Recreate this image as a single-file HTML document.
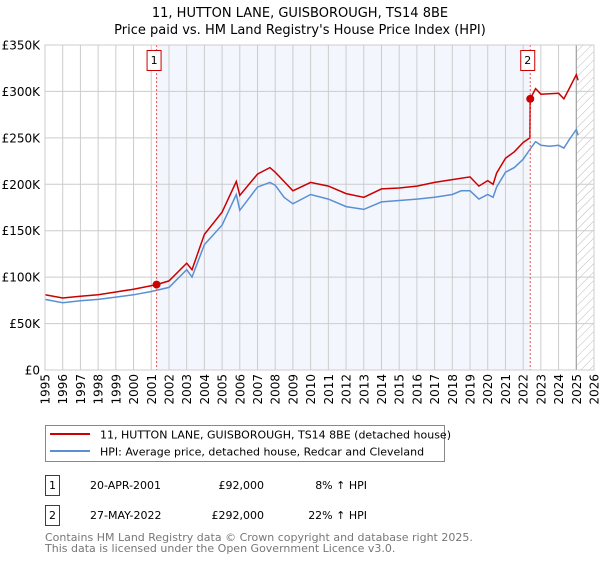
<!DOCTYPE html>
<html><head><meta charset="utf-8"><style>
body{margin:0;background:#fff}
svg text{font-family:"DejaVu Sans","Liberation Sans",sans-serif}
</style></head><body>
<svg id="chart" width="600" height="560" xmlns="http://www.w3.org/2000/svg">
<defs><pattern id="hatch" width="6" height="6" patternUnits="userSpaceOnUse" patternTransform="rotate(45)"><line x1="0" y1="0" x2="0" y2="6" stroke="#bbb" stroke-width="1"/></pattern></defs>
<text x="300" y="17" text-anchor="middle" font-size="13">11, HUTTON LANE, GUISBOROUGH, TS14 8BE</text>
<text x="300" y="34" text-anchor="middle" font-size="13">Price paid vs. HM Land Registry's House Price Index (HPI)</text>
<g id="plot"></g>
<g>
<rect x="45.5" y="425.5" width="399" height="36" fill="#fff" stroke="#888"/>
<line x1="50" y1="434" x2="90" y2="434" stroke="#cc0000" stroke-width="2"/>
<text x="100" y="438.5" font-size="11">11, HUTTON LANE, GUISBOROUGH, TS14 8BE (detached house)</text>
<line x1="50" y1="451" x2="90" y2="451" stroke="#5b8fd4" stroke-width="2"/>
<text x="100" y="455.5" font-size="11">HPI: Average price, detached house, Redcar and Cleveland</text>
</g>
<g font-size="11">
<rect x="45.5" y="475.5" width="14" height="20" fill="#fff" stroke="#cc0000"/>
<text x="52.5" y="489" text-anchor="middle">1</text>
<text x="90" y="489">20-APR-2001</text>
<text x="264" y="489" text-anchor="end">£92,000</text>
<text x="367" y="489" text-anchor="end">8% ↑ HPI</text>
<rect x="45.5" y="505.5" width="14" height="20" fill="#fff" stroke="#cc0000"/>
<text x="52.5" y="519" text-anchor="middle">2</text>
<text x="90" y="519">27-MAY-2022</text>
<text x="264" y="519" text-anchor="end">£292,000</text>
<text x="367" y="519" text-anchor="end">22% ↑ HPI</text>
</g>
<text x="45" y="541" font-size="11" fill="#777">Contains HM Land Registry data © Crown copyright and database right 2025.</text>
<text x="45" y="552" font-size="11" fill="#777">This data is licensed under the Open Government Licence v3.0.</text>
</svg>
<script>
const hpiYears=[1995,1996,1997,1998,1999,2000,2001,2002,2003,2003.3,2004,2005,2005.8,2006,2007,2007.7,2008,2008.5,2009,2010,2011,2012,2013,2014,2015,2016,2017,2018,2018.5,2019,2019.5,2020,2020.3,2020.5,2021,2021.5,2022,2022.4,2022.7,2023,2023.5,2024,2024.3,2024.6,2025,2025.1];
const hpiValues=[76,72.5,74.5,76,78.5,81,84.5,89,108,100,135,156,189,172,197,202,199,186,179,189,184,176,173,181,182.5,184,186,189,193,193,184,189,186,197,213,218,227,238,246,242,241,242,239,248,259,253];
const priceYears=[1995,1996,1997,1998,1999,2000,2001.3,2002,2003,2003.3,2004,2005,2005.8,2006,2007,2007.7,2008,2008.5,2009,2010,2011,2012,2013,2014,2015,2016,2017,2018,2019,2019.5,2020,2020.3,2020.5,2021,2021.5,2022,2022.38,2022.4,2022.7,2023,2024,2024.3,2024.6,2025,2025.1];
const priceValues=[81,77.5,79.5,81,84,87,92,96,115,108,146,170,203,188,211,218,213,203,193,202,198,190,186,195,196,198,202,205,208,198,204,200,212,228,235,245,250,292,303,297,298,292,303,318,312];
const sales=[{n:"1",year:2001.3,value:92},{n:"2",year:2022.4,value:292}];
const yTicks=[0,50,100,150,200,250,300,350];
const yTickLabels=["£0","£50K","£100K","£150K","£200K","£250K","£300K","£350K"];
const xStart=1995,xEnd=2026;
const L=45,R=594,T=45,B=370;
const X=y=>L+(y-xStart)/(xEnd-xStart)*(R-L);
const Y=v=>B-v/350*(B-T);
const g=document.getElementById('plot');
const NS="http://www.w3.org/2000/svg";
function mk(tag,attrs,parent){const e=document.createElementNS(NS,tag);for(const k in attrs)e.setAttribute(k,attrs[k]);(parent||g).appendChild(e);return e;}
let r=mk('rect',{x:L,y:T,width:R-L,height:B-T,fill:'#fff'});


let sh=mk('rect',{x:X(sales[0].year),y:T,width:X(sales[1].year)-X(sales[0].year),height:B-T,fill:'#eef3fc',opacity:0.7});


let ht=mk('rect',{x:X(2025),y:T,width:R-X(2025),height:B-T,fill:'url(#hatch)'});


for(let yr=xStart;yr<=xEnd;yr++){
 let l=mk('line',{x1:X(yr),x2:X(yr),y1:T,y2:B,stroke:'#ccc','stroke-width':1});
 
 
 let t=mk('text',{x:0,y:0,'font-size':12,'text-anchor':'end',transform:`translate(${X(yr)+4.5},${B+4}) rotate(-90)`});
 t.textContent=yr;
 
 
}
yTicks.forEach((v,i)=>{
 let l=mk('line',{x1:L,x2:R,y1:Y(v),y2:Y(v),stroke:'#ccc','stroke-width':1});
 
 
 let t=mk('text',{x:L-5,y:Y(v)+4.5,'font-size':12,'text-anchor':'end'});
 t.textContent=yTickLabels[i];
 
 
});
let vl=mk('line',{x1:X(2025),x2:X(2025),y1:T,y2:B,stroke:'#999','stroke-width':1});


function path(xs,vs,color,name){
 let d=xs.map((x,i)=>(i?'L':'M')+X(x).toFixed(1)+','+Y(vs[i]).toFixed(1)).join('');
 let p=mk('path',{d:d,fill:'none',stroke:color,'stroke-width':1.5});
 
 
}
path(hpiYears,hpiValues,'#5b8fd4','hpi-line');
path(priceYears,priceValues,'#cc0000','price-line');
sales.forEach(s=>{
 let l=mk('line',{x1:X(s.year),x2:X(s.year),y1:T,y2:B,stroke:'#e55','stroke-width':1,'stroke-dasharray':'2,2'});
 
 
 let c=mk('circle',{cx:X(s.year),cy:Y(s.value),r:4,fill:'#cc0000'});
 
 
 let b=mk('rect',{x:X(s.year)-9.5,y:50.5,width:14,height:20,fill:'#fff',stroke:'#cc0000'});
 
 
 let t=mk('text',{x:X(s.year)-2.5,y:64,'font-size':11,'text-anchor':'middle'});
 t.textContent=s.n;
 
 
});
let fr=mk('rect',{x:L,y:T,width:R-L,height:B-T,fill:'none',stroke:'#ccc'});


</script>
</body></html>
